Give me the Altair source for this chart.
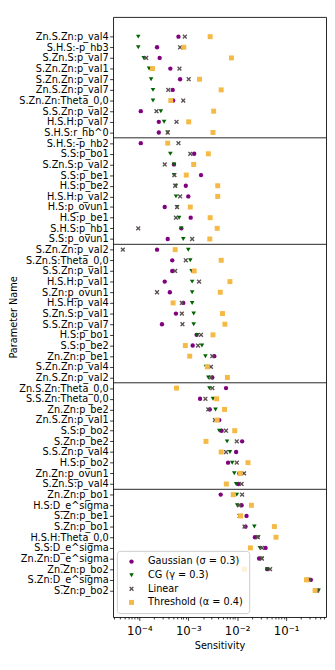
import altair as alt
import pandas as pd

params = [
    "Zn.S.Zn:p_val4", "S.H.S:-p_hb3", "S.Zn.S:p_val7", "S.Zn.Zn:p_val1", "S.Zn.Zn:p_val7",
    "Zn.S.Zn:p_val7", "S.Zn.Zn:Theta_0,0", "S.S.Zn:p_val2", "H.S.H:p_val7", "S.H.S:r_hb^0",
    "S.H.S:-p_hb2", "S.S:p_bo1", "S.Zn.S:p_val2", "S.S:p_be1", "H.S:p_be2",
    "H.S.H:p_val2", "H.S:p_ovun1", "H.S:p_be1", "S.H.S:p_hb1", "S.S:p_ovun1",
    "S.Zn.Zn:p_val2", "S.Zn.S:Theta_0,0", "S.S.Zn:p_val1", "H.S.H:p_val1", "S.Zn:p_ovun1",
    "H.S.H:p_val4", "S.Zn.S:p_val1", "S.S.Zn:p_val7", "H.S:p_bo1", "S.S:p_be2",
    "Zn.Zn:p_be1", "S.Zn.Zn:p_val4", "Zn.S.Zn:p_val2",
    "Zn.S.Zn:Theta_0,0", "S.S.Zn:Theta_0,0", "Zn.Zn:p_be2", "Zn.S.Zn:p_val1", "S.S:p_bo2",
    "S.Zn:p_be2", "S.S.Zn:p_val4", "H.S:p_bo2", "Zn.Zn:p_ovun1", "S.Zn.S:p_val4",
    "Zn.Zn:p_bo1", "H.S:D_e^sigma", "S.Zn:p_be1", "S.Zn:p_bo1", "H.S.H:Theta_0,0",
    "S.S:D_e^sigma", "Zn.Zn:D_e^sigma", "Zn.Zn:p_bo2", "S.Zn:D_e^sigma", "S.Zn:p_bo2",
]

gaussian = [
    6.3e-4, 2.3e-4, 2.6e-4, 4.3e-4, 6.8e-4, 4.8e-4, 4.9e-4, 1.07e-4, 2.5e-4, 2.5e-4,
    1.07e-4, 1.32e-3, 5.1e-4, 1.82e-3, 8.9e-4, 1.0e-3, 3.3e-4, 1.12e-3, 7.2e-4, 3.8e-4,
    2.3e-4, 4.7e-4, 4.7e-4, 3.3e-4, 4.2e-4, 7.9e-4, 5.6e-4, 2.9e-4, 1.48e-3, 1.23e-3,
    3.4e-3, 2.5e-3, 3.1e-3,
    5.9e-3, 1.74e-3, 2.75e-3, 4.3e-3, 4.8e-3, 1.26e-2, 9.5e-3, 6.5e-3, 1.1e-2, 1.05e-2,
    4.6e-3, 1.23e-2, 1.55e-2, 1.48e-2, 2.3e-2, 3.8e-2, 2.8e-2, 4.1e-2, 0.32, 0.43,
]
cg = [
    9.5e-5, 9.5e-5, 1.23e-4, 1.58e-4, 1.74e-4, 1.9e-4, 1.9e-4, 2.75e-4, 3.2e-4, 3.8e-4,
    3.8e-4, 4.3e-4, 5.1e-4, 5.1e-4, 5.6e-4, 5.6e-4, 5.9e-4, 6.5e-4, 7.2e-4, 7.9e-4,
    1.0e-3, 1.1e-3, 1.17e-3, 1.2e-3, 1.2e-3, 1.2e-3, 1.29e-3, 1.29e-3, 1.51e-3, 1.9e-3,
    2.24e-3, 2.3e-3, 2.57e-3,
    2.7e-3, 3.2e-3, 3.6e-3, 3.9e-3, 4.3e-3, 6.2e-3, 7.1e-3, 7.9e-3, 8.7e-3, 9.5e-3,
    9.8e-3, 1.0e-2, 1.12e-2, 2.24e-2, 2.7e-2, 2.9e-2, 3.2e-2, 4.1e-2, 0.28, 0.46,
]
linear = [
    8.5e-4, 6.8e-4, 1.38e-4, 6.6e-4, 1.02e-3, 3.9e-4, 7.9e-4, 2.24e-4, 5.75e-4, 3.8e-4,
    6.3e-4, 1.1e-3, 3.3e-4, 5.2e-4, 5.4e-4, 6.8e-4, 5.9e-4, 5.6e-4, 9.5e-5, 1.2e-3,
    4.6e-5, 8.9e-4, 5.4e-4, 1.66e-3, 2.3e-4, 7.4e-4, 7.4e-4, 7.6e-4, 1.82e-3, 1.58e-3,
    3.1e-3, 2.9e-3, 2.9e-3,
    3.1e-3, 2.24e-3, 2.57e-3, 3.5e-3, 5.9e-3, 9.8e-3, 5.9e-3, 9.8e-3, 1.38e-2, 1.23e-2,
    1.26e-2, 1.1e-2, 1.12e-2, 1.41e-2, 2.63e-2, 3.2e-2, 3.2e-2, 4.7e-2, 0.30, 0.43,
]
threshold = [
    2.8e-3, 8.1e-4, 7.6e-3, 1.86e-4, 1.7e-3, 4.7e-3, 4.4e-4, 3.3e-3, 1.02e-3, 3.2e-3,
    3.8e-4, 2.57e-3, 1.29e-3, 9.1e-4, 4.0e-3, 4.0e-3, 1.1e-3, 2.8e-3, 3.9e-3, 2.75e-3,
    5.4e-4, 4.7e-3, 1.32e-3, 7.1e-3, 4.5e-3, 4.9e-4, 5.0e-3, 5.6e-3, 3.2e-3, 8.7e-4,
    1.07e-3, 2.45e-3, 6.3e-3,
    5.75e-4, 3.8e-3, 5.5e-3, 3.9e-3, 8.9e-3, 2.3e-3, 4.7e-3, 1.66e-2, 1.15e-2, 6.0e-3,
    8.3e-3, 1.95e-2, 1.17e-2, 5.75e-2, 6.2e-2, 1.86e-2, 9.1e-3, 1.41e-2, 0.26, 0.39,
]

separators = [9.5, 19.5, 32.5, 42.5]
methods = ["Gaussian (σ = 0.3)", "CG (γ = 0.3)", "Linear", "Threshold (α = 0.4)"]
major_ticks = [1e-4, 1e-3, 1e-2, 1e-1]
major_labels = ["10⁻⁴", "10⁻³", "10⁻²", "10⁻¹"]
minor_ticks = [3e-5, 4e-5, 5e-5, 6e-5, 7e-5, 8e-5, 9e-5,
               2e-4, 3e-4, 4e-4, 5e-4, 6e-4, 7e-4, 8e-4, 9e-4,
               2e-3, 3e-3, 4e-3, 5e-3, 6e-3, 7e-3, 8e-3, 9e-3,
               2e-2, 3e-2, 4e-2, 5e-2, 6e-2, 7e-2, 8e-2, 9e-2,
               2e-1, 3e-1, 4e-1, 5e-1, 6e-1]

colors = ["#800080", "#006400", "#5a5050", "#f5b945"]
x_shape = "M-1,-0.6L-0.6,-1L0,-0.4L0.6,-1L1,-0.6L0.4,0L1,0.6L0.6,1L0,0.4L-0.6,1L-1,0.6L-0.4,0Z"
shapes = ["circle", "triangle-down", x_shape, "square"]
sizes = [20, 26, 14, 24]

rows = []
for m, vals in zip(methods, [gaussian, cg, linear, threshold]):
    for i, (p, v) in enumerate(zip(params, vals)):
        rows.append({"row": i, "param": p, "method": m, "value": v})
df = pd.DataFrame(rows)

FONT = "DejaVu Sans"
x_scale = alt.Scale(type="log", domain=[2.9e-5, 0.653], nice=False)
y_scale = alt.Scale(domain=[-1.85, 54.49], reverse=True, nice=False, zero=False)

names_js = "[" + ",".join("'" + n + "'" for n in params) + "]"
xlab_js = "[" + ",".join("'" + s + "'" for s in major_labels) + "]"

y_axis = alt.Axis(values=list(range(len(params))), labelExpr=names_js + "[datum.value]",
                  title="Parameter Name", tickSize=3.5, labelPadding=1.5,
                  labelFontSize=10, titlePadding=0, titleFontSize=10)

legend = alt.Legend(
    title=None, orient="none", legendX=4, legendY=549,
    labelFont=FONT, labelFontSize=10, labelColor="black", labelOffset=12,
    symbolSize=24, symbolOffset=4, rowPadding=4, padding=6,
    fillColor="rgba(255,255,255,0.8)", strokeColor="#cccccc", cornerRadius=3,
)

points = alt.Chart(df).mark_point(filled=True, opacity=1, strokeWidth=0).encode(
    x=alt.X("value:Q", scale=x_scale,
            axis=alt.Axis(values=major_ticks, labelExpr=xlab_js + "[round(log(datum.value)/LN10)+4]",
                          title="Sensitivity", orient="bottom", tickSize=3.5, labelPadding=5.5,
                          labelFontSize=12, titlePadding=4, titleFontSize=10)),
    y=alt.Y("row:Q", scale=y_scale, axis=y_axis),
    color=alt.Color("method:N", scale=alt.Scale(domain=methods, range=colors), legend=legend),
    shape=alt.Shape("method:N", scale=alt.Scale(domain=methods, range=shapes), legend=legend),
    size=alt.Size("method:N", scale=alt.Scale(domain=methods, range=sizes), legend=None),
)

minor = alt.Chart(df).mark_point(opacity=0).encode(
    x=alt.X("value:Q", scale=x_scale,
            axis=alt.Axis(values=minor_ticks, labels=False, title=None, orient="bottom",
                          tickSize=2, domain=False, grid=False)),
    y=alt.Y("row:Q", scale=y_scale, axis=y_axis),
)

seps = alt.Chart(pd.DataFrame({"row": separators})).mark_rule(color="#222222", strokeWidth=1).encode(
    y=alt.Y("row:Q", scale=y_scale, axis=y_axis)
)

chart = alt.layer(minor, seps, points).resolve_axis(x="independent").properties(
    width=219, height=617,
    padding={"left": 0, "top": 0, "right": 0, "bottom": 0},
).configure_view(stroke="#222222", strokeWidth=1).configure_axis(
    grid=False, domain=False, tickColor="black", labelColor="black", titleColor="black",
    labelFont=FONT, titleFont=FONT, titleFontWeight="normal", tickWidth=0.8,
).configure_legend(labelFont=FONT)

chart.save("out.html", embed_options={"renderer": "svg", "actions": False})
